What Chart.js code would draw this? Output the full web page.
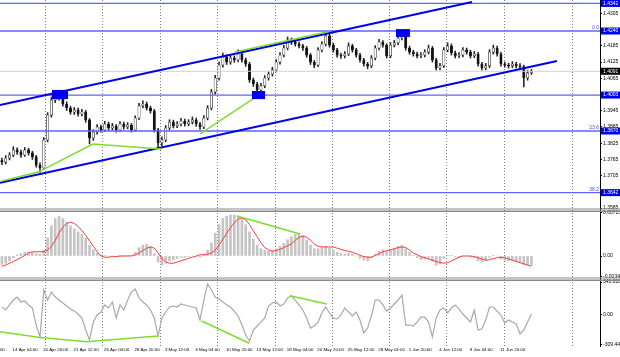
<!DOCTYPE html>
<html><head><meta charset="utf-8">
<script src="https://cdn.jsdelivr.net/npm/chart.js@4.4.1/dist/chart.umd.min.js"></script>
<style>html,body{margin:0;padding:0;background:#fff;overflow:hidden}canvas{display:block}</style>
</head><body>
<canvas id="c" width="620" height="357"></canvas>
<script>
// ---- price candles (one candle per 2 H4 bars) ----
const open=[1.3762,1.3755,1.3770,1.3781,1.3800,1.3792,1.3781,1.3800,1.3789,1.3774,
1.3744,1.3733,1.3837,1.3929,1.3985,1.3996,1.4000,1.3970,1.3955,1.3940,
1.3948,1.3933,1.3940,1.3911,1.3844,1.3866,1.3885,1.3874,1.3896,1.3881,
1.3889,1.3874,1.3896,1.3885,1.3892,1.3874,1.3918,1.3963,1.3970,1.3955,
1.3944,1.3874,1.3826,1.3837,1.3881,1.3903,1.3889,1.3896,1.3907,1.3896,
1.3903,1.3911,1.3896,1.3885,1.3918,1.3955,1.4014,1.4066,1.4114,1.4144,
1.4125,1.4140,1.4133,1.4155,1.4133,1.4118,1.4059,1.4044,1.4022,1.4037,
1.4066,1.4081,1.4096,1.4125,1.4151,1.4177,1.4207,1.4199,1.4192,1.4185,
1.4177,1.4151,1.4125,1.4114,1.4170,1.4192,1.4222,1.4188,1.4170,1.4151,
1.4148,1.4155,1.4185,1.4170,1.4151,1.4133,1.4118,1.4111,1.4140,1.4177,
1.4199,1.4188,1.4148,1.4188,1.4196,1.4214,1.4222,1.4177,1.4162,1.4155,
1.4148,1.4151,1.4162,1.4177,1.4133,1.4103,1.4111,1.4170,1.4185,1.4159,
1.4148,1.4151,1.4170,1.4162,1.4148,1.4155,1.4118,1.4103,1.4111,1.4162,
1.4177,1.4155,1.4118,1.4114,1.4111,1.4118,1.4111,1.4108,1.4066,1.4085];
const high=[1.3770,1.3779,1.3790,1.3812,1.3808,1.3799,1.3809,1.3806,1.3795,1.3780,
1.3752,1.3846,1.3938,1.3996,1.4008,1.4012,1.4005,1.3978,1.3962,1.3957,
1.3955,1.3950,1.3946,1.3916,1.3875,1.3894,1.3892,1.3906,1.3903,1.3898,
1.3894,1.3905,1.3903,1.3901,1.3898,1.3926,1.3972,1.3982,1.3977,1.3962,
1.3950,1.3880,1.3848,1.3890,1.3912,1.3910,1.3905,1.3917,1.3914,1.3912,
1.3922,1.3918,1.3902,1.3927,1.3964,1.4024,1.4076,1.4125,1.4158,1.4152,
1.4150,1.4148,1.4170,1.4162,1.4140,1.4124,1.4066,1.4050,1.4046,1.4075,
1.4090,1.4106,1.4134,1.4160,1.4187,1.4218,1.4214,1.4206,1.4199,1.4191,
1.4183,1.4157,1.4131,1.4179,1.4201,1.4236,1.4228,1.4195,1.4176,1.4158,
1.4164,1.4196,1.4191,1.4176,1.4157,1.4139,1.4124,1.4149,1.4186,1.4209,
1.4205,1.4193,1.4197,1.4206,1.4224,1.4238,1.4229,1.4184,1.4169,1.4162,
1.4160,1.4171,1.4188,1.4183,1.4139,1.4120,1.4179,1.4196,1.4192,1.4166,
1.4160,1.4179,1.4177,1.4169,1.4164,1.4161,1.4124,1.4120,1.4171,1.4188,
1.4184,1.4161,1.4125,1.4121,1.4127,1.4124,1.4119,1.4114,1.4094,1.4098];
const low=[1.3745,1.3748,1.3763,1.3775,1.3783,1.3772,1.3776,1.3781,1.3765,1.3736,
1.3718,1.3728,1.3830,1.3921,1.3975,1.3984,1.3962,1.3946,1.3932,1.3931,
1.3925,1.3926,1.3902,1.3822,1.3835,1.3858,1.3866,1.3868,1.3873,1.3874,
1.3866,1.3868,1.3877,1.3878,1.3866,1.3870,1.3912,1.3955,1.3947,1.3936,
1.3866,1.3806,1.3815,1.3830,1.3874,1.3881,1.3882,1.3889,1.3888,1.3889,
1.3896,1.3887,1.3876,1.3879,1.3911,1.3948,1.4006,1.4058,1.4106,1.4116,
1.4117,1.4124,1.4126,1.4125,1.4109,1.4050,1.4035,1.4007,1.4014,1.4030,
1.4058,1.4073,1.4089,1.4117,1.4144,1.4170,1.4190,1.4184,1.4177,1.4168,
1.4143,1.4116,1.4104,1.4108,1.4163,1.4185,1.4180,1.4162,1.4143,1.4139,
1.4140,1.4149,1.4162,1.4143,1.4125,1.4110,1.4100,1.4104,1.4133,1.4170,
1.4180,1.4140,1.4141,1.4181,1.4189,1.4207,1.4169,1.4154,1.4147,1.4140,
1.4141,1.4144,1.4155,1.4125,1.4095,1.4096,1.4104,1.4163,1.4151,1.4140,
1.4141,1.4144,1.4154,1.4140,1.4141,1.4110,1.4095,1.4096,1.4104,1.4155,
1.4147,1.4110,1.4106,1.4103,1.4104,1.4103,1.4100,1.4033,1.4058,1.4079];
const close=[1.3755,1.3770,1.3781,1.3800,1.3792,1.3781,1.3800,1.3789,1.3774,1.3744,
1.3733,1.3837,1.3929,1.3985,1.3996,1.4000,1.3970,1.3955,1.3940,1.3948,
1.3933,1.3940,1.3911,1.3844,1.3866,1.3885,1.3874,1.3896,1.3881,1.3889,
1.3874,1.3896,1.3885,1.3892,1.3874,1.3918,1.3963,1.3970,1.3955,1.3944,
1.3874,1.3826,1.3837,1.3881,1.3903,1.3889,1.3896,1.3907,1.3896,1.3903,
1.3911,1.3896,1.3885,1.3918,1.3955,1.4014,1.4066,1.4114,1.4144,1.4125,
1.4140,1.4133,1.4155,1.4133,1.4118,1.4059,1.4044,1.4022,1.4037,1.4066,
1.4081,1.4096,1.4125,1.4151,1.4177,1.4207,1.4199,1.4192,1.4185,1.4177,
1.4151,1.4125,1.4114,1.4170,1.4192,1.4222,1.4188,1.4170,1.4151,1.4148,
1.4155,1.4185,1.4170,1.4151,1.4133,1.4118,1.4111,1.4140,1.4177,1.4199,
1.4188,1.4148,1.4188,1.4196,1.4214,1.4222,1.4177,1.4162,1.4155,1.4148,
1.4151,1.4162,1.4177,1.4133,1.4103,1.4111,1.4170,1.4185,1.4159,1.4148,
1.4151,1.4170,1.4162,1.4148,1.4155,1.4118,1.4103,1.4111,1.4162,1.4177,
1.4155,1.4118,1.4114,1.4111,1.4118,1.4111,1.4108,1.4066,1.4085,1.4091];

// ---- MACD ----
const macdHist=[-0.0014,-0.0012,-0.0008,-0.0003,0.0002,0.0004,0.0006,0.0007,0.0006,0.0004,
0.0003,0.0010,0.0030,0.0050,0.0062,0.0066,0.0062,0.0056,0.0050,0.0045,
0.0040,0.0036,0.0030,0.0018,0.0010,0.0005,0.0002,0.0001,0.0000,0.0000,
-0.0001,0.0001,0.0000,0.0001,0.0001,0.0006,0.0014,0.0018,0.0019,0.0016,
0.0004,-0.0010,-0.0015,-0.0012,-0.0008,-0.0006,-0.0004,-0.0002,-0.0002,-0.0001,
0.0000,-0.0001,-0.0002,0.0002,0.0010,0.0022,0.0038,0.0052,0.0062,0.0066,
0.0068,0.0068,0.0066,0.0060,0.0052,0.0040,0.0028,0.0018,0.0012,0.0009,
0.0008,0.0009,0.0012,0.0016,0.0021,0.0027,0.0032,0.0036,0.0038,0.0034,
0.0026,0.0018,0.0012,0.0012,0.0014,0.0016,0.0013,0.0009,0.0006,0.0004,
0.0003,0.0005,0.0003,0.0000,-0.0004,-0.0007,-0.0008,-0.0003,0.0003,0.0008,
0.0010,0.0008,0.0010,0.0013,0.0016,0.0018,0.0012,0.0006,0.0001,-0.0003,
-0.0006,-0.0005,-0.0004,-0.0009,-0.0015,-0.0013,-0.0004,0.0001,0.0001,-0.0001,
-0.0002,0.0000,0.0000,-0.0002,-0.0003,-0.0008,-0.0010,-0.0008,-0.0002,0.0001,
0.0000,-0.0005,-0.0007,-0.0008,-0.0008,-0.0009,-0.0010,-0.0014,-0.0015,-0.0015];
const macdSignal=[-0.0017,-0.0015,-0.0012,-0.0009,-0.0006,-0.0003,0.0001,0.0005,0.0007,0.0007,
0.0007,0.0007,0.0010,0.0016,0.0026,0.0038,0.0048,0.0054,0.0056,0.0054,
0.0049,0.0042,0.0034,0.0025,0.0016,0.0007,0.0000,-0.0002,-0.0002,-0.0001,
-0.0001,0.0000,0.0000,0.0000,0.0000,0.0002,0.0005,0.0009,0.0013,0.0015,
0.0013,0.0005,-0.0004,-0.0010,-0.0012,-0.0012,-0.0010,-0.0008,-0.0006,-0.0004,
-0.0002,0.0000,0.0002,0.0002,0.0003,0.0005,0.0010,0.0018,0.0028,0.0038,
0.0047,0.0055,0.0061,0.0063,0.0060,0.0052,0.0042,0.0032,0.0022,0.0014,
0.0010,0.0008,0.0009,0.0011,0.0014,0.0017,0.0020,0.0026,0.0031,0.0033,
0.0031,0.0026,0.0020,0.0016,0.0015,0.0015,0.0015,0.0015,0.0013,0.0011,
0.0009,0.0008,0.0006,0.0004,0.0001,-0.0001,-0.0002,-0.0002,0.0001,0.0004,
0.0007,0.0009,0.0010,0.0012,0.0014,0.0015,0.0014,0.0010,0.0005,0.0002,
-0.0001,-0.0003,-0.0005,-0.0007,-0.0009,-0.0011,-0.0012,-0.0011,-0.0008,-0.0005,
-0.0002,0.0000,0.0000,0.0000,-0.0001,-0.0003,-0.0005,-0.0007,-0.0006,-0.0004,
-0.0003,-0.0002,-0.0003,-0.0005,-0.0007,-0.0009,-0.0011,-0.0013,-0.0015,-0.0017];

// ---- CCI ----
const cci=[83,52,104,155,186,135,145,104,73,-104,
-228,259,155,238,186,155,124,93,62,41,
10,-31,-155,-259,-73,0,31,104,73,135,
-31,104,52,155,238,269,176,135,104,52,
-31,-218,-31,31,83,93,83,114,104,93,
83,73,-52,155,321,259,186,166,135,104,
83,41,-10,-104,-207,-269,-155,-114,-73,-31,
93,124,135,93,114,176,197,155,104,52,
-31,-135,-114,-73,21,83,21,-31,-41,0,
73,31,-10,31,-52,-186,-135,-10,155,155,
104,41,73,114,155,207,-104,-104,-114,-73,
-21,-21,-73,-228,-31,52,73,21,73,104,
62,10,-31,-73,52,-155,-145,-52,83,83,
41,0,-83,-52,-73,-93,-197,-155,-73,10];

// ---- axis labels / ticks ----
const xLabels=['9 Apr 12:00','14 Apr 04:00','16 Apr 20:00','21 Apr 12:00','26 Apr 04:00','28 Apr 20:00','3 May 12:00','6 May 04:00','10 May 20:00','13 May 12:00','18 May 04:00','20 May 20:00','25 May 12:00','28 May 04:00','1 Jun 20:00','4 Jun 12:00','9 Jun 04:00','11 Jun 20:00'];
const xLabelSlots=[-5.2,2.8,10.8,18.8,26.8,34.8,42.8,50.8,58.8,66.8,74.8,82.8,90.8,98.8,106.8,114.8,122.8,130.8];
const gridSlots=[11.5,26.5,41.7,56.7,71.7,86.7,101.7,116.8,131.8,149.9];
const priceTicks=[1.4305,1.4185,1.4125,1.4065,1.3945,1.3885,1.3825,1.3765,1.3705,1.3585];
const macdTicks=[0.00713,0,-0.00346];
const macdTickLabels=['0.00713','0.00','-0.00346'];
const cciTicks=[341.8182,0,-309.44];
const cciTickLabels=['341.8182','0.00','-309.4400'];

// ---- drawn objects (time slot, price) ----
const levelPrices=[1.4342,1.4240,1.4003,1.3870,1.3642];
const currentPrice=1.4091;
const fibTexts=['0.0','23.6','38.2'];
const fibPrices=[1.4240,1.3870,1.3642];
const channelLower=[[-0.5,1.3678],[145.7,1.4129]];
const channelUpper=[[-0.5,1.3966],[123.4,1.4347]];
const greenPrice=[
 [[0.0,1.3685],[9.5,1.3718],[23.9,1.3822],[41.8,1.3803]],
 [[52.0,1.3859],[68.3,1.4011]],
 [[61.2,1.4162],[85.3,1.4236]]];
const greenMacd=[[61.7,0.00663],[78.25,0.00365]];
const greenCci=[
 [[-0.5,-173],[9.55,-231],[22.26,-277],[41.05,-218]],
 [[52.44,-62],[64.94,-293]],
 [[75.6,200],[85.26,114]]];
const boxes=[[13.15,17.35,1.4022,1.3988],[65.65,69.06,1.4018,1.3988],[103.45,107.1,1.4247,1.4218]];

const FONT='"Liberation Sans", Arial, sans-serif';
const pts=a=>a.map(p=>({x:p[0],y:p[1]}));
const lineDs=(data,axis,color,w)=>({type:'line',data,xAxisID:'x',yAxisID:axis,borderColor:color,borderWidth:w,pointRadius:0,tension:0,fill:false});

const datasets=[];
greenPrice.forEach(g=>datasets.push(lineDs(pts(g),'yp','#7fdc2c',1.5)));
datasets.push(lineDs(pts(greenMacd),'ym','#7fdc2c',1.5));
greenCci.forEach(g=>datasets.push(lineDs(pts(g),'yc','#7fdc2c',1.5)));
datasets.push(lineDs(pts(channelLower),'yp','#0000f0',2));
datasets.push(lineDs(pts(channelUpper),'yp','#0000f0',2));
levelPrices.forEach(v=>datasets.push(lineDs([{x:-0.5,y:v},{x:157,y:v}],'yp','#6262ff',1.3)));
datasets.push(lineDs([{x:-0.5,y:currentPrice},{x:157,y:currentPrice}],'yp','#d0d0d0',1));
datasets.push({type:'bar',xAxisID:'x',yAxisID:'yp',grouped:false,barThickness:2.4,
  data:close.map((c,i)=>({x:i,y:[open[i],c]})),
  backgroundColor:close.map((c,i)=>c>=open[i]?'#ffffff':'#111111'),
  borderColor:'#222',borderWidth:0.6,borderSkipped:false});
datasets.push({type:'bar',xAxisID:'x',yAxisID:'yp',grouped:false,barThickness:0.9,
  data:close.map((c,i)=>({x:i,y:[low[i],high[i]]})),backgroundColor:'#222'});
datasets.push(lineDs(macdSignal.map((v,i)=>({x:i,y:v})),'ym','#ff3b3b',1));
datasets.push({type:'bar',xAxisID:'x',yAxisID:'ym',grouped:false,barThickness:2,
  data:macdHist.map((v,i)=>({x:i,y:v})),backgroundColor:'#c4c4c4'});
datasets.push(lineDs(cci.map((v,i)=>({x:i,y:v})),'yc','#a8a8a8',1.2));

const fitY=w=>function(s){s.width=w;s.paddingTop=0;s.paddingBottom=0;};
const yAxis=(extra)=>Object.assign({type:'linear',position:'right',stack:'panels',bounds:'data',
  grid:{drawOnChartArea:false,drawTicks:true,tickLength:2,tickColor:'#000'},
  border:{display:true,color:'#000',width:1},
  afterFit:fitY(20)},extra);
const yTicks=cb=>({font:{family:FONT,size:5},color:'#000',padding:1,autoSkip:false,callback:cb});

const overlay={
  id:'overlay',
  afterDatasetsDraw(chart){
    const {ctx,chartArea:a}=chart, xs=chart.scales.x, yp=chart.scales.yp;
    ctx.save();
    ctx.beginPath();ctx.rect(a.left,a.top,a.width,yp.bottom-a.top);ctx.clip();
    ctx.fillStyle='#0000f0';
    boxes.forEach(b=>{
      const x1=xs.getPixelForValue(b[0]),x2=xs.getPixelForValue(b[1]);
      const y1=yp.getPixelForValue(b[2]),y2=yp.getPixelForValue(b[3]);
      ctx.fillRect(x1,y1,x2-x1,y2-y1);
    });
    ctx.font='5px '+FONT;ctx.fillStyle='#4a4aff';ctx.textAlign='right';ctx.textBaseline='bottom';
    fibTexts.forEach((t,i)=>ctx.fillText(t,a.right-1,yp.getPixelForValue(fibPrices[i])-0.5));
    ctx.restore();
  },
  afterDraw(chart){
    const {ctx}=chart, yp=chart.scales.yp;
    ctx.save();
    ['ym','yc'].forEach(id=>{
      const t=chart.scales[id].top;
      ctx.fillStyle='#8a8a8a';
      ctx.fillRect(0,t-1.5,chart.width,1);
      ctx.fillRect(0,t+0.5,chart.width,1.5);
    });
    ctx.font='5px '+FONT;ctx.textAlign='left';ctx.textBaseline='middle';
    levelPrices.forEach(v=>{
      const y=yp.getPixelForValue(v);
      ctx.fillStyle='#0000f0';ctx.fillRect(yp.left+1,y-3.5,19,7);
      ctx.fillStyle='#fff';ctx.fillText(v.toFixed(4),yp.left+3,y);
    });
    const yc=yp.getPixelForValue(currentPrice);
    ctx.fillStyle='#000';ctx.fillRect(yp.left+1,yc-3.5,19,7);
    ctx.fillStyle='#fff';ctx.fillText(currentPrice.toFixed(4),yp.left+3,yc);
    ctx.restore();
  }
};

new Chart(document.getElementById('c'),{
  type:'bar',
  data:{datasets},
  plugins:[overlay],
  options:{
    responsive:false,animation:false,devicePixelRatio:1,events:[],
    layout:{padding:0},
    plugins:{legend:{display:false},tooltip:{enabled:false}},
    scales:{
      x:{type:'linear',position:'bottom',min:-0.5,max:157,offset:false,bounds:'data',weight:1,
        grid:{offset:false,color:'#7a7a7a',lineWidth:1,drawTicks:false},
        border:{display:false,dash:[1,2]},
        ticks:{display:false,autoSkip:false},
        afterBuildTicks(s){s.ticks=gridSlots.map(v=>({value:v}));},
        afterFit(s){s.height=0;s.paddingLeft=0;s.paddingRight=0;}},
      xl:{type:'linear',position:'bottom',min:-0.5,max:157,offset:false,bounds:'data',weight:2,
        grid:{display:false,drawTicks:false,offset:false},border:{display:false},
        ticks:{font:{family:FONT,size:4.4},color:'#000',align:'start',padding:1.5,autoSkip:false,maxRotation:0,minRotation:0,
          callback:(v,i)=>xLabels[i]},
        afterBuildTicks(s){s.ticks=xLabelSlots.map(v=>({value:v}));},
        afterFit(s){s.height=11;s.paddingLeft=0;s.paddingRight=0;}},
      yp:yAxis({weight:1,stackWeight:210,min:1.35777,max:1.43547,
        ticks:yTicks(v=>v.toFixed(4)),
        afterBuildTicks(s){s.ticks=priceTicks.map(v=>({value:v}));}}),
      ym:yAxis({weight:2,stackWeight:69,min:-0.003813,max:0.007627,
        ticks:yTicks((v,i)=>macdTickLabels[i]),
        afterBuildTicks(s){s.ticks=macdTicks.map(v=>({value:v}));}}),
      yc:yAxis({weight:3,stackWeight:67,min:-321.2,max:373.0,
        ticks:yTicks((v,i)=>cciTickLabels[i]),
        afterBuildTicks(s){s.ticks=cciTicks.map(v=>({value:v}));}})
    }
  }
});
</script>
</body></html>
